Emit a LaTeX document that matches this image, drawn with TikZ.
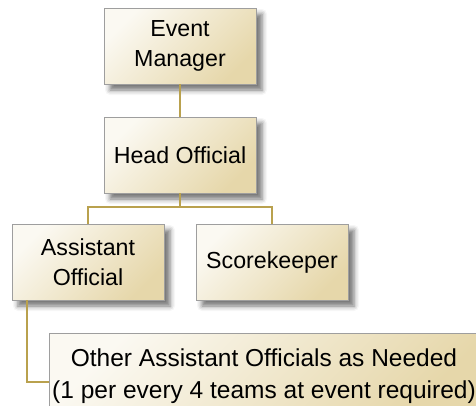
\documentclass[tikz,border=0pt]{standalone}
\usepackage{fontspec}
\setmainfont{Liberation Sans}
\usepackage{tikz}
\usetikzlibrary{shadows,shadows.blur}

\definecolor{boxlight}{HTML}{FBF9F2}
\definecolor{boxdark}{HTML}{E6D7AA}
\definecolor{boxline}{HTML}{9E9E9E}
\definecolor{linkgold}{HTML}{B9A14E}

\begin{document}
\begin{tikzpicture}[x=1pt, y=-1pt,
		role/.style={draw=boxline, line width=0.9pt, top color=boxlight, bottom color=boxdark, shading angle=45,
			blur shadow={shadow xshift=6pt, shadow yshift=-6pt, shadow blur radius=5pt, shadow opacity=55},
			minimum width=152pt, minimum height=76pt, align=center, inner sep=0pt,
			font=\fontsize{23.2}{29.5}\selectfont},
		link/.style={draw=linkgold, line width=2pt}]
		\useasboundingbox (0,0) rectangle (476,405);
		
		% the boxes
		\node[role] (em) at (180,46) {Event\\Manager};
		\node[role] (ho) at (180,155) {Head Official};
		\node[role] (ao) at (88,262) {Assistant\\Official};
		\node[role] (sk) at (272,262) {Scorekeeper};
		\node[role, minimum width=430pt, minimum height=86pt, font=\fontsize{24.5}{32}\selectfont] (oth) at (264,376)
			{Other Assistant Officials as Needed\\(1 per every 4 teams at event required)};
		
		% the connectors
		\draw[link] (em.south) -- (ho.north);
		\draw[link] (ho.south) -- ++(0,14) -| (ao.north);
		\draw[link] (ho.south) -- ++(0,14) -| (sk.north);
		\draw[link] ([xshift=15pt]ao.south west) |- ([yshift=-6pt]oth.west);
	\end{tikzpicture}
\end{document}
